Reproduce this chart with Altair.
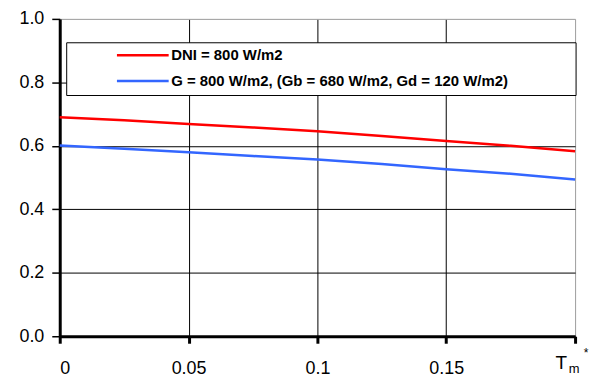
import altair as alt
import pandas as pd

# --- data ---
t_m = [0.0, 0.025, 0.05, 0.075, 0.1, 0.125, 0.15, 0.175, 0.2]
eff_dni = [0.690, 0.681, 0.669, 0.658, 0.646, 0.631, 0.615, 0.600, 0.583]
eff_g = [0.601, 0.591, 0.580, 0.568, 0.557, 0.543, 0.526, 0.512, 0.494]
series_names = ["DNI = 800 W/m2", "G = 800 W/m2, (Gb = 680 W/m2, Gd = 120 W/m2)"]
series_colors = ["#ff0000", "#3366ff"]
x_ticks = [0.0, 0.05, 0.1, 0.15, 0.2]
y_ticks = [0.0, 0.2, 0.4, 0.6, 0.8, 1.0]

rows = []
for xv, a, b in zip(t_m, eff_dni, eff_g):
    rows.append({"x": xv, "y": a, "series": series_names[0]})
    rows.append({"x": xv, "y": b, "series": series_names[1]})
df = pd.DataFrame(rows)

FONT = "Liberation Sans"

xscale = alt.Scale(domain=[0, 0.2], nice=False, zero=False)
yscale = alt.Scale(domain=[0, 1], nice=False)

lines = alt.Chart(df).mark_line(strokeWidth=2.5).encode(
    x=alt.X("x:Q", scale=xscale, title=None,
            axis=alt.Axis(values=x_ticks, format=".2~f",
                          labelExpr="datum.value >= 0.2 ? '' : datum.label",
                          gridColor=alt.condition("datum.value >= 0.2", alt.value("#a0a0a0"), alt.value("#000000")),
                          gridWidth=1, domainColor="black", domainWidth=3,
                          tickColor="black", tickWidth=3, tickSize=7,
                          labelPadding=16, labelFont=FONT, labelFontSize=18,
                          labelColor="black")),
    y=alt.Y("y:Q", scale=yscale, title=None,
            axis=alt.Axis(values=y_ticks, format=".1f",
                          gridColor=alt.condition("datum.value >= 1", alt.value("#a0a0a0"), alt.value("#000000")),
                          gridWidth=1, domainColor="black", domainWidth=3,
                          tickColor="black", tickWidth=1.5, tickSize=8,
                          labelPadding=8, labelFont=FONT, labelFontSize=18,
                          labelColor="black")),
    color=alt.Color("series:N", sort=series_names,
                    scale=alt.Scale(domain=series_names, range=series_colors),
                    legend=alt.Legend(title=None, orient="none", legendX=55, legendY=29,
                                      symbolType="M-1,0H9.4", symbolSize=100,
                                      symbolStrokeWidth=2.5, labelFont=FONT,
                                      labelFontSize=15, labelFontWeight="bold",
                                      labelColor="black", labelOffset=42,
                                      labelLimit=1000, rowPadding=10)),
    order=alt.Order("x:Q"),
)

frame = alt.Chart(pd.DataFrame({"a": [0]})).mark_rect(
    fill="white", stroke="black", strokeWidth=1
).encode(x=alt.value(7), x2=alt.value(519), y=alt.value(24), y2=alt.value(77))

tm_df = pd.DataFrame({"x": [0.2], "y": [0.0]})
t_text = alt.Chart(tm_df).mark_text(text="T", font=FONT, fontSize=19, color="black",
                                    dx=-14, dy=27).encode(x=alt.X("x:Q", scale=xscale), y=alt.Y("y:Q", scale=yscale))
m_text = alt.Chart(tm_df).mark_text(text="m", font=FONT, fontSize=13, color="black",
                                    dx=-1, dy=33).encode(x=alt.X("x:Q", scale=xscale), y=alt.Y("y:Q", scale=yscale))
s_text = alt.Chart(tm_df).mark_text(text="*", font=FONT, fontSize=12, color="black",
                                    dx=11, dy=17).encode(x=alt.X("x:Q", scale=xscale), y=alt.Y("y:Q", scale=yscale))

chart = alt.layer(frame, lines, t_text, m_text, s_text).properties(
    width=518, height=319,
    autosize=alt.AutoSizeParams(type="none"),
    padding={"left": 52, "top": 10, "right": 15, "bottom": 40},
).configure_view(stroke="#a0a0a0", strokeWidth=2).configure(background="white")

chart.save("out.html", embed_options={"renderer": "svg", "actions": False})
